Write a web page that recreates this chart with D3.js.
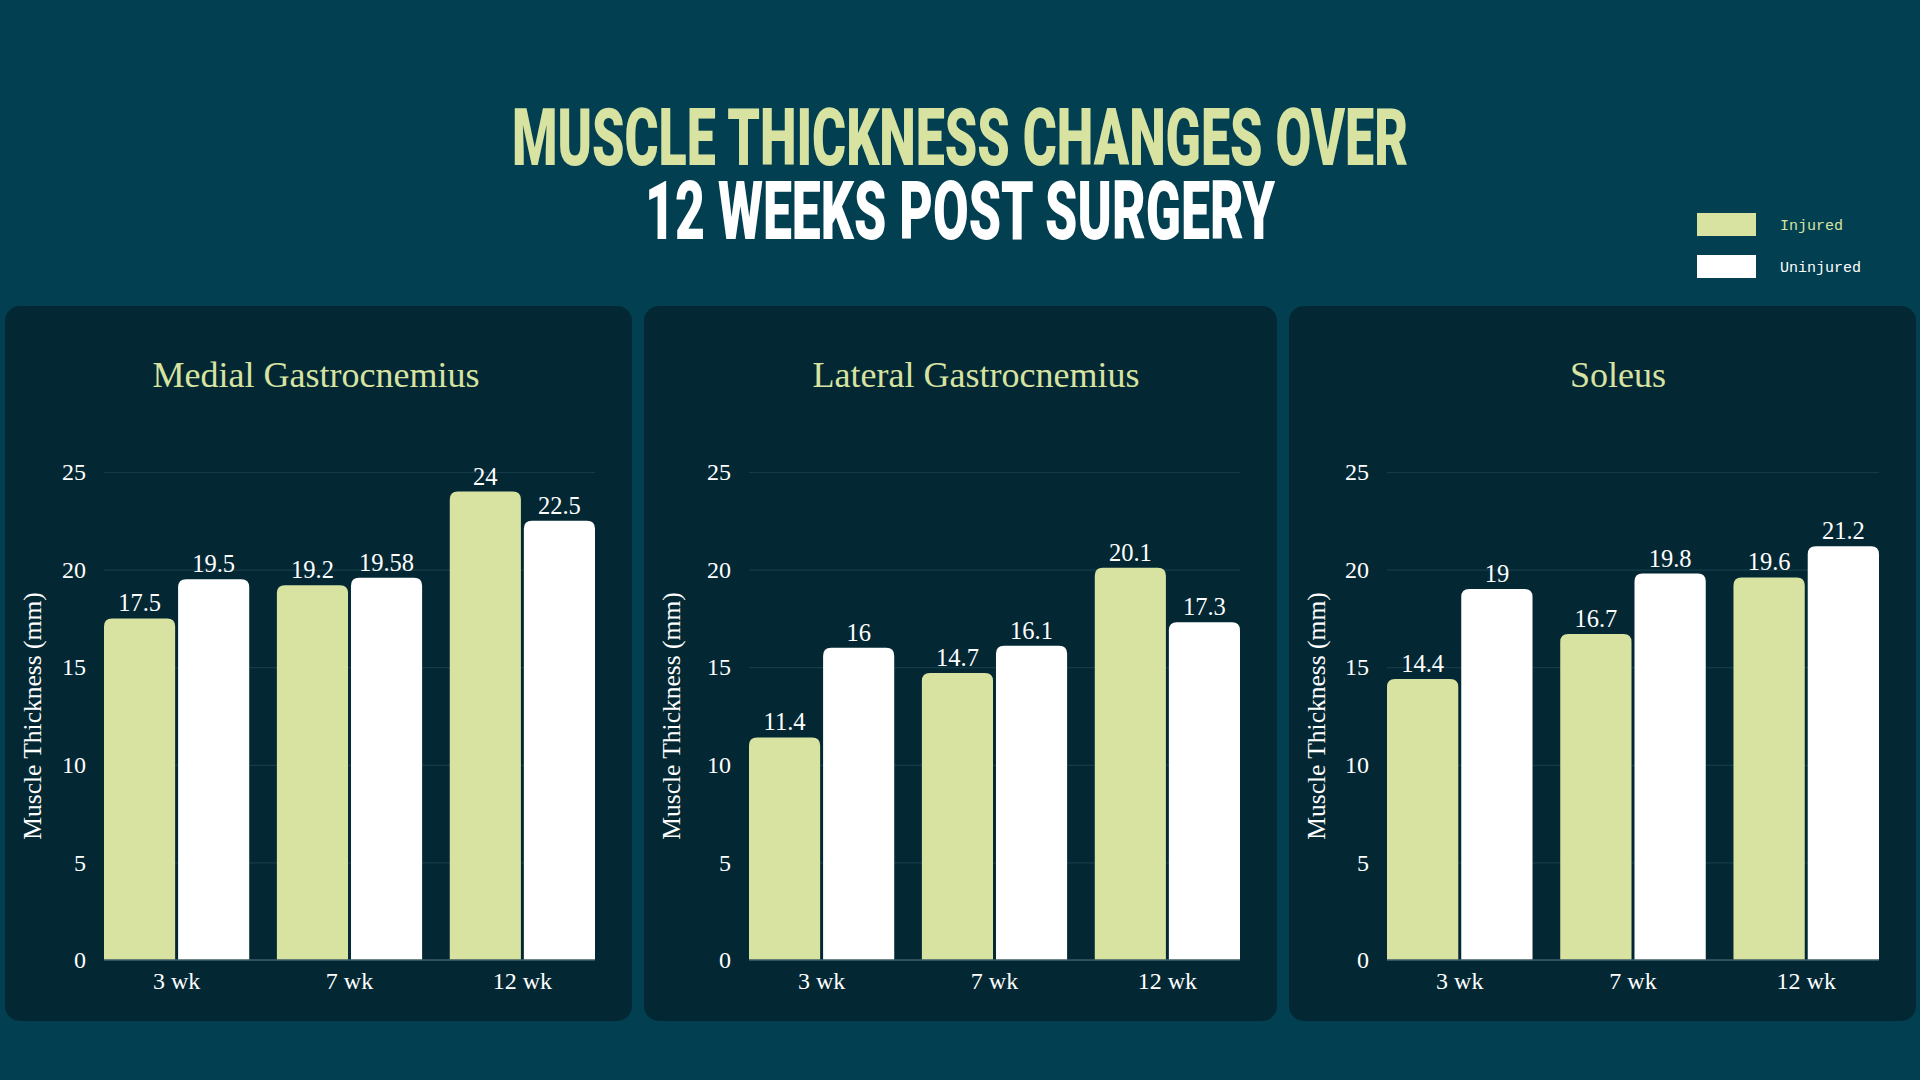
<!DOCTYPE html>
<html>
<head>
<meta charset="utf-8">
<script src="https://cdn.jsdelivr.net/npm/d3@7"></script>
<style>
  html, body { margin: 0; padding: 0; background: #013f51; }
  svg { display: block; }
</style>
</head>
<body>
<svg id="chart" width="1920" height="1080"></svg>
<script>
// ---- data ----
const titleLine1 = "MUSCLE THICKNESS CHANGES OVER";
const titleLine2 = "12 WEEKS POST SURGERY";
const timepoints = ["3 wk", "7 wk", "12 wk"];
const seriesNames = ["Injured", "Uninjured"];
const muscles = ["Medial Gastrocnemius", "Lateral Gastrocnemius", "Soleus"];
const medialInjured = [17.5, 19.2, 24];
const medialUninjured = [19.5, 19.58, 22.5];
const lateralInjured = [11.4, 14.7, 20.1];
const lateralUninjured = [16, 16.1, 17.3];
const soleusInjured = [14.4, 16.7, 19.6];
const soleusUninjured = [19, 19.8, 21.2];
const yTicks = [0, 5, 10, 15, 20, 25];
const yAxisTitle = "Muscle Thickness (mm)";

const panelData = [
  [medialInjured, medialUninjured],
  [lateralInjured, lateralUninjured],
  [soleusInjured, soleusUninjured]
];

// ---- style ----
const BG = "#013f51", PANEL = "#032834", GREEN = "#d8e3a2", WHITE = "#ffffff";
const GRID = "#143c48";
const serif = "'Liberation Serif', 'DejaVu Serif', serif";
const mono = "'Liberation Mono', 'DejaVu Sans Mono', monospace";
const colors = d3.scaleOrdinal().domain(seriesNames).range([GREEN, WHITE]);

const svg = d3.select("#chart");
svg.append("rect").attr("width", 1920).attr("height", 1080).attr("fill", BG);

// ---- title ----
svg.append("text").text(titleLine1)
  .attr("x", 960).attr("y", 165).attr("text-anchor", "middle")
  .attr("font-family", "Roboto, 'Liberation Sans', sans-serif").attr("font-weight", 900)
  .attr("font-size", 80).attr("fill", GREEN)
  .attr("textLength", 896).attr("lengthAdjust", "spacingAndGlyphs");
svg.append("text").text(titleLine2)
  .attr("x", 960).attr("y", 239).attr("text-anchor", "middle")
  .attr("font-family", "Roboto, 'Liberation Sans', sans-serif").attr("font-weight", 900)
  .attr("font-size", 82).attr("fill", WHITE)
  .attr("textLength", 630).attr("lengthAdjust", "spacingAndGlyphs");

// ---- legend ----
const legend = svg.append("g").attr("transform", "translate(1697,213)");
seriesNames.forEach((s, i) => {
  const g = legend.append("g").attr("transform", `translate(0,${i * 42})`);
  g.append("rect").attr("width", 59).attr("height", 23).attr("fill", colors(s));
  g.append("text").text(s).attr("x", 83).attr("y", 12).attr("dy", "0.35em")
    .attr("font-family", mono).attr("font-size", 15)
    .attr("fill", i === 0 ? GREEN : WHITE);
});

// ---- panels ----
const panelX = [5, 644, 1289];
const panelW = [627, 633, 627];
const plotLeftOffset = [99, 105, 98];
const titleCenterOffset = [311, 332, 329];
const panelTop = 306, panelH = 715;
const plotTop = 472, plotBottom = 960;

function topRoundedBar(x, y, w, h, r) {
  r = Math.min(r, w / 2, h);
  return `M${x},${y + h}V${y + r}Q${x},${y} ${x + r},${y}H${x + w - r}Q${x + w},${y} ${x + w},${y + r}V${y + h}Z`;
}

muscles.forEach((m, pi) => {
  const px = panelX[pi], pw = panelW[pi];
  const g = svg.append("g");
  g.append("rect").attr("x", px).attr("y", panelTop).attr("width", pw).attr("height", panelH)
    .attr("rx", 15).attr("fill", PANEL);

  g.append("text").text(m).attr("x", px + titleCenterOffset[pi]).attr("y", 387)
    .attr("text-anchor", "middle").attr("font-family", serif).attr("font-size", 36)
    .attr("fill", GREEN);

  const left = px + plotLeftOffset[pi], right = px + pw - 37;
  const x0 = d3.scaleBand().domain(timepoints).range([left, right]).paddingInner(0.16).paddingOuter(0);
  const x1 = d3.scaleBand().domain(seriesNames).range([0, x0.bandwidth()]).paddingInner(0.04);
  const y = d3.scaleLinear().domain([0, 25]).range([plotBottom, plotTop]);

  // y axis with gridlines
  const yAxis = g.append("g").attr("transform", `translate(${left},0)`)
    .call(d3.axisLeft(y).tickValues(yTicks).tickSize(-(right - left)).tickPadding(18));
  yAxis.select(".domain").remove();
  yAxis.selectAll(".tick line").attr("stroke", GRID).attr("stroke-width", 1.2);
  yAxis.selectAll(".tick text").attr("fill", WHITE).attr("font-family", serif).attr("font-size", 24);

  // axis title
  g.append("text").text(yAxisTitle)
    .attr("transform", `translate(${px + 36},${(plotTop + plotBottom) / 2}) rotate(-90)`)
    .attr("text-anchor", "middle").attr("font-family", serif).attr("font-size", 25.5)
    .attr("fill", WHITE);

  // bars
  const groups = g.selectAll(".grp").data(timepoints).enter().append("g")
    .attr("transform", d => `translate(${x0(d)},0)`);
  groups.selectAll("path").data((d, i) => seriesNames.map((s, si) => ({ s, v: panelData[pi][si][i] })))
    .enter().append("path")
    .attr("d", d => topRoundedBar(x1(d.s), y(d.v), x1.bandwidth(), y(0) - y(d.v), 8))
    .attr("fill", d => colors(d.s));
  groups.selectAll("text.val").data((d, i) => seriesNames.map((s, si) => ({ s, v: panelData[pi][si][i] })))
    .enter().append("text").attr("class", "val")
    .attr("x", d => x1(d.s) + x1.bandwidth() / 2).attr("y", d => y(d.v) - 7)
    .attr("text-anchor", "middle").attr("font-family", serif).attr("font-size", 24.5)
    .attr("fill", WHITE).text(d => d.v);

  // baseline
  g.append("line").attr("x1", left).attr("x2", right).attr("y1", y(0)).attr("y2", y(0))
    .attr("stroke", "#3e5c66").attr("stroke-width", 1.5);

  // x axis labels
  const xAxis = g.append("g").attr("transform", `translate(0,${plotBottom})`)
    .call(d3.axisBottom(x0).tickSize(0).tickPadding(12));
  xAxis.select(".domain").remove();
  xAxis.selectAll(".tick text").attr("fill", WHITE).attr("font-family", serif).attr("font-size", 24);
});
</script>
</body>
</html>
